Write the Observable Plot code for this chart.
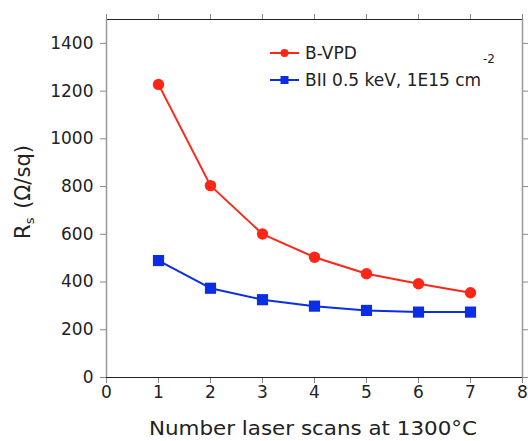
<!DOCTYPE html>
<html><head><meta charset="utf-8">
<script src="https://cdn.jsdelivr.net/npm/d3@7"></script>
<script src="https://cdn.jsdelivr.net/npm/@observablehq/plot@0.6"></script>
<style>body{margin:0;background:#fff} #c{width:528px;height:441px}</style>
</head><body><div id="c"></div>
<script>
const scans = [1, 2, 3, 4, 5, 6, 7];
const bvpd = [1228, 804, 601, 504, 435, 393, 355];
const bii = [490, 374, 326, 299, 281, 274, 274];
const seriesNames = ["B-VPD", "BII 0.5 keV, 1E15 cm"];
const seriesColors = ["#ff2617", "#0b2de6"];
const xTicks = [0, 1, 2, 3, 4, 5, 6, 7, 8];
const yTicks = [0, 200, 400, 600, 800, 1000, 1200, 1400];
const xLabel = "Number laser scans at 1300°C";

const redData = scans.map((s, i) => ({x: s, y: bvpd[i]}));
const blueData = scans.map((s, i) => ({x: s, y: bii[i]}));

const chart = Plot.plot({
  width: 528, height: 441,
  marginLeft: 106, marginRight: 6, marginTop: 19, marginBottom: 64,
  style: {fontFamily: "DejaVu Sans", fontSize: "17px", color: "#222", background: "#fff"},
  x: {domain: [0, 8]},
  y: {domain: [0, 1500]},
  marks: [
    Plot.axisX({ticks: xTicks, tickSize: 6, tickPadding: 2, tickFormat: d => String(d), label: null, anchor: "bottom", stroke: "#888"}),
    Plot.axisX({ticks: xTicks, tickSize: 6, tickFormat: () => "", label: null, anchor: "top", stroke: "#888"}),
    Plot.axisY({ticks: yTicks, tickSize: 6, tickPadding: 7, tickFormat: d => String(d), label: null, anchor: "left", stroke: "#888"}),
    Plot.axisY({ticks: yTicks, tickSize: 6, tickFormat: () => "", label: null, anchor: "right", stroke: "#888"}),
    Plot.ruleY([0], {stroke: "#222", strokeWidth: 1.2}),
    Plot.ruleY([1500], {stroke: "#222", strokeWidth: 1.2}),
    Plot.ruleX([0], {stroke: "#999", strokeWidth: 1.5}),
    Plot.ruleX([8], {stroke: "#999", strokeWidth: 1.5}),
    Plot.line(redData, {x: "x", y: "y", stroke: seriesColors[0], strokeWidth: 2}),
    Plot.line(blueData, {x: "x", y: "y", stroke: seriesColors[1], strokeWidth: 2}),
    Plot.dot(redData, {x: "x", y: "y", fill: seriesColors[0], r: 5.7, symbol: "circle"}),
    Plot.dot(blueData, {x: "x", y: "y", fill: seriesColors[1], r: 6.3, symbol: "square"})
  ]
});
document.getElementById("c").appendChild(chart);

const svg = d3.select(chart);
// x label
svg.append("text")
  .attr("x", 313).attr("y", 428).attr("dy", "0.35em")
  .attr("text-anchor", "middle")
  .attr("font-family", "DejaVu Sans").attr("font-size", 20).attr("fill", "#222")
  .attr("textLength", 328).attr("lengthAdjust", "spacingAndGlyphs")
  .text(xLabel);
// y label with subscript
const yl = svg.append("text")
  .attr("transform", "translate(30,192) rotate(-90)")
  .attr("text-anchor", "middle")
  .attr("font-family", "DejaVu Sans").attr("font-size", 21).attr("fill", "#222");
yl.append("tspan").text("R");
yl.append("tspan").attr("font-size", 13).attr("dy", 4).text("s");
yl.append("tspan").attr("dy", -4).attr("dx", 2).text(" (Ω/sq)");

// legend
const lg = svg.append("g").attr("font-family", "DejaVu Sans").attr("font-size", 17)
  .attr("fill", "#222").attr("text-anchor", "start");
const rows = [{y: 53, sym: "circle"}, {y: 80, sym: "square"}];
rows.forEach((r, i) => {
  lg.append("line").attr("x1", 270).attr("x2", 299).attr("y1", r.y).attr("y2", r.y)
    .attr("stroke", seriesColors[i]).attr("stroke-width", 2);
  if (r.sym === "circle") lg.append("circle").attr("cx", 284.5).attr("cy", r.y).attr("r", 4).attr("fill", seriesColors[i]);
  else lg.append("rect").attr("x", 280.5).attr("y", r.y - 4).attr("width", 8).attr("height", 8).attr("fill", seriesColors[i]);
  lg.append("text").attr("x", 305).attr("y", r.y).attr("dy", "0.35em").text(seriesNames[i]);
});
lg.append("text").attr("x", 483).attr("y", 63).attr("font-size", 12).text("-2");
</script>
</body></html>
